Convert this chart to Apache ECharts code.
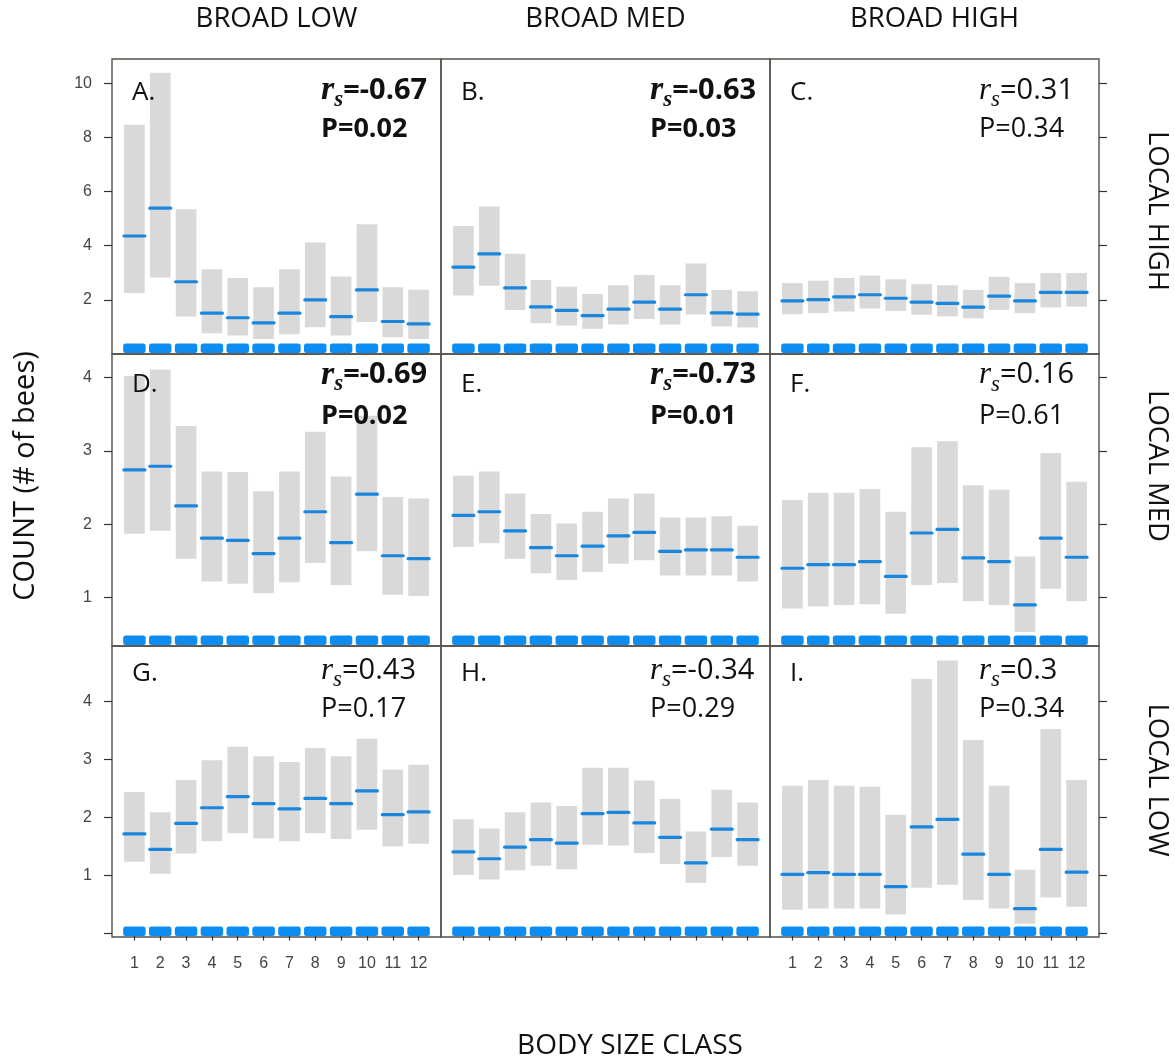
<!DOCTYPE html>
<html>
<head>
<meta charset="utf-8">
<script src="https://cdn.jsdelivr.net/npm/echarts@6/dist/echarts.min.js"></script>
<style>
  html, body { margin: 0; padding: 0; background: #ffffff; }
  #chart { width: 1175px; height: 1061px; }
</style>
</head>
<body>
<div id="chart"></div>
<script>
// Body size classes on the x axis
const sizeClasses = [1, 2, 3, 4, 5, 6, 7, 8, 9, 10, 11, 12];

// A. broad low / local high
const loA   = [2.25, 2.83, 1.39, 0.77, 0.68, 0.55, 0.73, 0.99, 0.68, 1.18, 0.62, 0.55];
const hiA   = [8.47, 10.39, 5.35, 3.13, 2.81, 2.47, 3.13, 4.12, 2.86, 4.79, 2.47, 2.37];
const meanA = [4.36, 5.39, 2.67, 1.51, 1.34, 1.15, 1.51, 2.00, 1.38, 2.37, 1.20, 1.11];
// B. broad med / local high
const loB   = [2.16, 2.52, 1.63, 1.14, 1.05, 0.93, 1.09, 1.29, 1.09, 1.46, 1.02, 0.98];
const hiB   = [4.73, 5.45, 3.70, 2.73, 2.49, 2.22, 2.54, 2.92, 2.54, 3.34, 2.37, 2.32];
const meanB = [3.21, 3.70, 2.44, 1.74, 1.61, 1.42, 1.66, 1.92, 1.66, 2.19, 1.52, 1.47];
// C. broad high / local high
const loC   = [1.47, 1.51, 1.57, 1.68, 1.59, 1.45, 1.39, 1.32, 1.63, 1.51, 1.72, 1.75];
const hiC   = [2.62, 2.71, 2.81, 2.90, 2.76, 2.58, 2.54, 2.37, 2.85, 2.62, 2.99, 2.99];
const meanC = [1.96, 2.01, 2.11, 2.19, 2.06, 1.92, 1.87, 1.73, 2.14, 1.96, 2.28, 2.28];
// D. broad low / local med
const loD   = [1.87, 1.91, 1.53, 1.22, 1.19, 1.06, 1.21, 1.47, 1.17, 1.63, 1.04, 1.02];
const hiD   = [4.02, 4.11, 3.34, 2.72, 2.71, 2.45, 2.72, 3.26, 2.65, 3.48, 2.37, 2.35];
const meanD = [2.74, 2.79, 2.25, 1.81, 1.78, 1.60, 1.81, 2.17, 1.75, 2.41, 1.57, 1.53];
// E. broad med / local med
const loE   = [1.69, 1.74, 1.53, 1.33, 1.24, 1.35, 1.46, 1.51, 1.30, 1.30, 1.30, 1.22];
const hiE   = [2.66, 2.72, 2.42, 2.14, 2.01, 2.17, 2.35, 2.42, 2.09, 2.09, 2.11, 1.98];
const meanE = [2.12, 2.17, 1.91, 1.68, 1.57, 1.70, 1.84, 1.89, 1.63, 1.65, 1.65, 1.55];
// F. broad high / local med
const loF   = [0.85, 0.88, 0.90, 0.91, 0.78, 1.17, 1.20, 0.95, 0.90, 0.53, 1.12, 0.95];
const hiF   = [2.33, 2.43, 2.43, 2.48, 2.17, 3.05, 3.13, 2.53, 2.47, 1.56, 2.97, 2.58];
const meanF = [1.40, 1.45, 1.45, 1.49, 1.29, 1.88, 1.93, 1.54, 1.49, 0.90, 1.81, 1.55];
// G. broad low / local low
const loG   = [1.24, 1.03, 1.38, 1.59, 1.73, 1.64, 1.59, 1.73, 1.63, 1.79, 1.50, 1.55];
const hiG   = [2.44, 2.09, 2.65, 2.99, 3.22, 3.06, 2.96, 3.20, 3.06, 3.36, 2.83, 2.91];
const meanG = [1.72, 1.45, 1.90, 2.17, 2.36, 2.24, 2.15, 2.33, 2.24, 2.46, 2.05, 2.10];
// H. broad med / local low
const loH   = [1.01, 0.93, 1.09, 1.17, 1.11, 1.53, 1.52, 1.39, 1.20, 0.87, 1.32, 1.17];
const hiH   = [1.97, 1.81, 2.09, 2.26, 2.20, 2.86, 2.86, 2.64, 2.32, 1.76, 2.48, 2.26];
const meanH = [1.41, 1.29, 1.49, 1.62, 1.56, 2.07, 2.09, 1.91, 1.66, 1.22, 1.80, 1.62];
// I. broad high / local low
const loI   = [0.41, 0.43, 0.43, 0.43, 0.33, 0.79, 0.84, 0.58, 0.43, 0.17, 0.62, 0.46];
const hiI   = [2.55, 2.65, 2.55, 2.53, 2.05, 4.39, 4.71, 3.34, 2.55, 1.10, 3.53, 2.65];
const meanI = [1.02, 1.05, 1.02, 1.02, 0.81, 1.84, 1.97, 1.37, 1.02, 0.43, 1.45, 1.06];

// Panel annotations (Spearman rank correlation and P value)
const panelLetters = ['A.', 'B.', 'C.', 'D.', 'E.', 'F.', 'G.', 'H.', 'I.'];
const rsValues = ['-0.67', '-0.63', '0.31', '-0.69', '-0.73', '0.16', '0.43', '-0.34', '0.3'];
const pValues = ['0.02', '0.03', '0.34', '0.02', '0.01', '0.61', '0.17', '0.29', '0.34'];
const significant = [true, true, false, true, true, false, false, false, false];

// Facet labels
const broadLevels = ['BROAD LOW', 'BROAD MED', 'BROAD HIGH'];
const localLevels = ['LOCAL HIGH', 'LOCAL MED', 'LOCAL LOW'];

// Y axis ticks per row of panels
const yTicksByRow = [[2, 4, 6, 8, 10], [1, 2, 3, 4], [0, 1, 2, 3, 4]];
const yLabelsByRow = [[2, 4, 6, 8, 10], [1, 2, 3, 4], [1, 2, 3, 4]];
const yRangeByRow = [[0, 10.9], [0.34, 4.32], [-0.06, 4.96]];

// ---- layout & style ----
const colLeft = [112, 441, 770];
const colWidth = 329;
const rowTop = [59, 354, 646];
const rowHeight = [295, 292, 291];
const X_MIN = 0.133, X_MAX = 12.867;
const BAR_W = 0.80;     // CI bar width in class units
const MEAN_W = 0.93;    // mean stroke width in class units
const RUG_W = 0.87;
const BORDER = '#55504b';
const TICK = '#333333';
const LABEL = '#444444';
const GREY = '#d9d9d9';
const MEAN_BLUE = '#1b86de';
const RUG_BLUE = '#0d8cf2';
const SANS = '"Open Sans", "Liberation Sans", sans-serif';

const panels = [
  [loA, hiA, meanA], [loB, hiB, meanB], [loC, hiC, meanC],
  [loD, hiD, meanD], [loE, hiE, meanE], [loF, hiF, meanF],
  [loG, hiG, meanG], [loH, hiH, meanH], [loI, hiI, meanI]
];

function renderCI(params, api) {
  const x = api.value(0);
  const a = api.coord([x - BAR_W / 2, api.value(2)]);
  const b = api.coord([x + BAR_W / 2, api.value(1)]);
  return { type: 'rect', shape: { x: a[0], y: a[1], width: b[0] - a[0], height: b[1] - a[1] },
           style: { fill: GREY } };
}
function renderMean(params, api) {
  const x = api.value(0);
  const a = api.coord([x - MEAN_W / 2, api.value(1)]);
  const b = api.coord([x + MEAN_W / 2, api.value(1)]);
  return { type: 'rect', shape: { x: a[0], y: a[1] - 1.6, width: b[0] - a[0], height: 3.2, r: 1.5 },
           style: { fill: MEAN_BLUE } };
}
function renderRug(params, api) {
  const x = api.value(0);
  const cs = params.coordSys;
  const a = api.coord([x - RUG_W / 2, 0]);
  const b = api.coord([x + RUG_W / 2, 0]);
  const bottom = cs.y + cs.height;
  return { type: 'rect', shape: { x: a[0], y: bottom - 10.5, width: b[0] - a[0], height: 9.5, r: 2.5 },
           style: { fill: RUG_BLUE } };
}

const grids = [], xAxes = [], yAxes = [], series = [], graphics = [];

panels.forEach(([lo, hi, mean], i) => {
  const r = Math.floor(i / 3), c = i % 3;
  grids.push({ left: colLeft[c], top: rowTop[r], width: colWidth, height: rowHeight[r],
               show: true, borderColor: BORDER, borderWidth: 1.4, backgroundColor: 'transparent' });
  const bottomRow = r === 2;
  xAxes.push({
    type: 'value', gridIndex: i, min: X_MIN, max: X_MAX,
    axisLine: { show: false }, splitLine: { show: false },
    axisTick: { show: bottomRow, customValues: sizeClasses, length: 7, lineStyle: { color: TICK, width: 1.2 } },
    axisLabel: { show: bottomRow && c !== 1, customValues: sizeClasses, margin: 19,
                 color: LABEL, fontSize: 16, fontFamily: 'Liberation Sans' }
  });
  yAxes.push({
    type: 'value', gridIndex: i, min: yRangeByRow[r][0], max: yRangeByRow[r][1],
    position: c === 2 ? 'right' : 'left',
    axisLine: { show: false }, splitLine: { show: false },
    axisTick: { show: c !== 1, customValues: yTicksByRow[r], length: 8, lineStyle: { color: TICK, width: 1.2 } },
    axisLabel: { show: c === 0, customValues: yLabelsByRow[r], margin: 20,
                 color: LABEL, fontSize: 16, fontFamily: 'Liberation Sans' }
  });
  series.push({
    type: 'custom', xAxisIndex: i, yAxisIndex: i, silent: true, clip: false,
    renderItem: renderCI, data: sizeClasses.map((x, k) => [x, lo[k], hi[k]])
  });
  series.push({
    type: 'custom', xAxisIndex: i, yAxisIndex: i, silent: true, clip: false,
    renderItem: renderRug, data: sizeClasses.map(x => [x, yRangeByRow[r][0]])
  });
  series.push({
    type: 'custom', xAxisIndex: i, yAxisIndex: i, silent: true, clip: false,
    renderItem: renderMean, data: sizeClasses.map((x, k) => [x, mean[k]])
  });

  // panel letter
  const letterY = [33.5, 30.5, 28][r];
  graphics.push({ type: 'text', silent: true, z: 100, x: colLeft[c] + 20, y: rowTop[r] + letterY,
    style: { text: panelLetters[i], font: '26px ' + SANS, fill: '#111', align: 'left', verticalAlign: 'middle' } });

  // correlation and P value
  const bold = significant[i];
  const base1 = [41.7, 31, 34.5][r];
  const base2 = [81, 72.5, 74][r];
  const sx = colLeft[c] + 209;
  graphics.push({ type: 'text', silent: true, z: 100, x: sx, y: rowTop[r] + base1 - 31,
    style: {
      text: '{r|r}{s|s}{v|=' + rsValues[i] + '}', align: 'left', verticalAlign: 'top', fill: '#111',
      rich: {
        r: { fontFamily: 'Liberation Serif', fontStyle: 'italic', fontWeight: bold ? 'bold' : 'normal',
             fontSize: bold ? 34 : 31, lineHeight: 42, fill: '#111' },
        s: { fontFamily: 'Liberation Serif', fontStyle: 'italic', fontWeight: bold ? 'bold' : 'normal',
             fontSize: 23, lineHeight: 22, verticalAlign: 'bottom', fill: '#111' },
        v: { fontFamily: SANS, fontWeight: bold ? 'bold' : 'normal', fontSize: 29, lineHeight: 42, fill: '#111' }
      }
    } });
  graphics.push({ type: 'text', silent: true, z: 100, x: sx, y: rowTop[r] + base2 - 10.5,
    style: { text: 'P=' + pValues[i], fontFamily: SANS, fontSize: 27, fontWeight: bold ? 'bold' : 'normal',
             fill: '#111', align: 'left', verticalAlign: 'middle' } });
});

// column headers
broadLevels.forEach((t, c) => {
  graphics.push({ type: 'text', silent: true, x: colLeft[c] + colWidth / 2, y: 19,
    style: { text: t, fontFamily: SANS, fontSize: 27.5, fill: '#111', align: 'center', verticalAlign: 'middle' } });
});
// row labels on the right
const rowLabelY = [211, 466, 780];
localLevels.forEach((t, r) => {
  graphics.push({ type: 'text', silent: true, x: 1157, y: rowLabelY[r], rotation: -Math.PI / 2,
    style: { text: t, fontFamily: SANS, fontSize: 27.5, fill: '#111', align: 'center', verticalAlign: 'middle' } });
});
// axis titles
graphics.push({ type: 'text', silent: true, x: 26, y: 476, rotation: Math.PI / 2,
  style: { text: 'COUNT (# of bees)', fontFamily: SANS, fontSize: 29, fill: '#111', align: 'center', verticalAlign: 'middle' } });
graphics.push({ type: 'text', silent: true, x: 630, y: 1046,
  style: { text: 'BODY SIZE CLASS', fontFamily: SANS, fontSize: 28, fill: '#111', align: 'center', verticalAlign: 'middle' } });

const chart = echarts.init(document.getElementById('chart'), null, { renderer: 'canvas' });
chart.setOption({
  animation: false,
  backgroundColor: '#ffffff',
  grid: grids,
  xAxis: xAxes,
  yAxis: yAxes,
  series: series,
  graphic: { elements: graphics }
});
</script>
</body>
</html>
